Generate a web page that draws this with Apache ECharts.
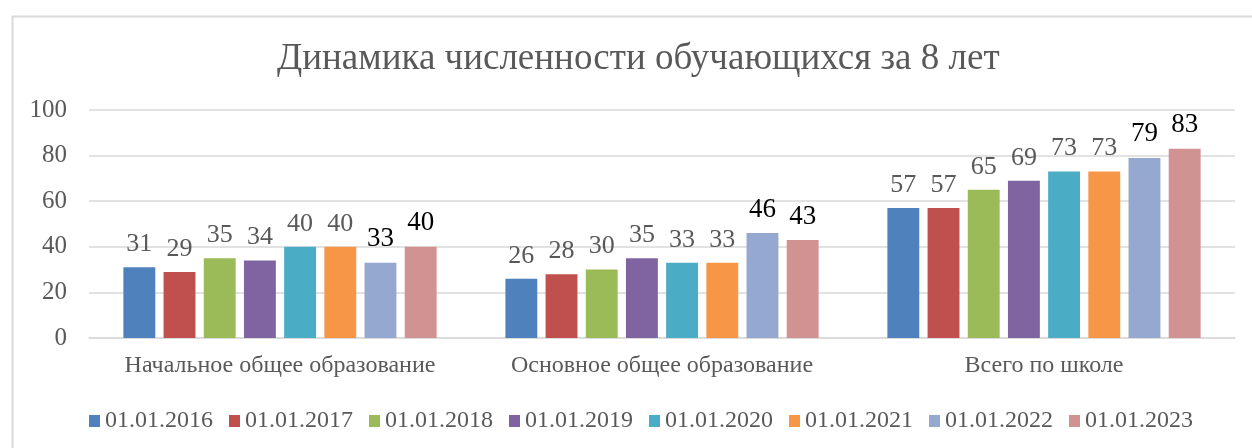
<!DOCTYPE html>
<html>
<head>
<meta charset="utf-8">
<script src="https://cdn.jsdelivr.net/npm/echarts@6/dist/echarts.min.js"></script>
<style>
  html, body { margin: 0; padding: 0; background: #fff; }
  #chart { width: 1252px; height: 448px; }
</style>
</head>
<body>
<div id="chart"></div>
<script>
const categories = ['Начальное общее образование', 'Основное общее образование', 'Всего по школе'];
const dates = ['01.01.2016', '01.01.2017', '01.01.2018', '01.01.2019', '01.01.2020', '01.01.2021', '01.01.2022', '01.01.2023'];
const colors = ['#4F81BD', '#C0504D', '#9BBB59', '#8064A2', '#4BACC6', '#F79646', '#95A9D0', '#D19392'];
// values per date, one number per category
const v2016 = [31, 26, 57];
const v2017 = [29, 28, 57];
const v2018 = [35, 30, 65];
const v2019 = [34, 35, 69];
const v2020 = [40, 33, 73];
const v2021 = [40, 33, 73];
const v2022 = [33, 46, 79];
const v2023 = [40, 43, 83];
const values = [v2016, v2017, v2018, v2019, v2020, v2021, v2022, v2023];
const yTicks = [0, 20, 40, 60, 80, 100];

const serif = '"Liberation Serif", "Times New Roman", serif';
const chart = echarts.init(document.getElementById('chart'));

const series = dates.map((d, i) => ({
  name: d,
  type: 'bar',
  data: values[i],
  barGap: '26%',
  barCategoryGap: '18%',
  itemStyle: { color: colors[i] },
  label: {
    show: true,
    position: 'top',
    distance: 10,
    fontFamily: serif,
    fontSize: i >= 6 ? 27 : 26,
    color: i >= 6 ? '#000000' : '#595959'
  }
}));

chart.setOption({
  animation: false,
  color: colors,
  title: {
    text: 'Динамика численности обучающихся за 8 лет',
    left: 272,
    top: 36,
    textStyle: { fontFamily: serif, fontSize: 37, fontWeight: 'normal', color: '#595959' }
  },
  graphic: [{
    type: 'rect',
    left: 10, top: 14,
    shape: { width: 1260, height: 460 },
    style: { fill: 'none', stroke: '#D9D9D9', lineWidth: 2 },
    silent: true
  }],
  legend: {
    bottom: 10,
    left: 84,
    itemWidth: 11,
    itemHeight: 12,
    itemGap: 16,
    icon: 'rect',
    textStyle: { fontFamily: serif, fontSize: 24, color: '#595959' },
    data: dates
  },
  grid: { left: 89, right: 17, top: 110, bottom: 110 },
  xAxis: {
    type: 'category',
    data: categories,
    axisTick: { show: false },
    axisLine: { lineStyle: { color: '#D9D9D9', width: 1.5 } },
    axisLabel: { interval: 0, fontFamily: serif, fontSize: 24, color: '#595959', margin: 16 }
  },
  yAxis: {
    type: 'value',
    min: yTicks[0],
    max: yTicks[yTicks.length - 1],
    interval: 20,
    axisLine: { show: false },
    axisTick: { show: false },
    splitLine: { lineStyle: { color: '#D9D9D9', width: 1.5 } },
    axisLabel: { fontFamily: serif, fontSize: 25, color: '#595959', margin: 22 }
  },
  series: series
});
</script>
</body>
</html>
